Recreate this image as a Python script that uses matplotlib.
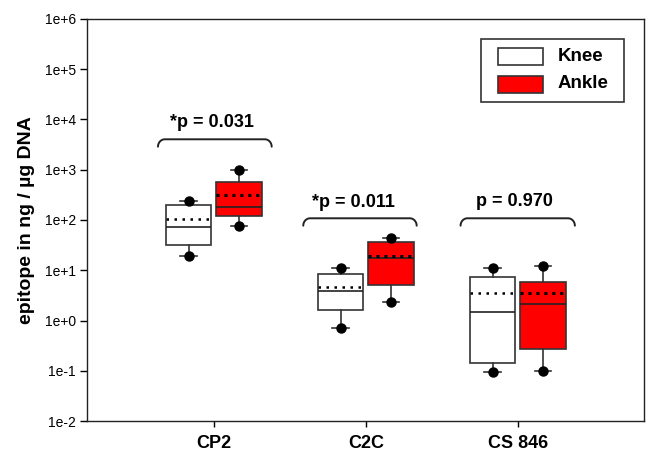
import numpy as np
import matplotlib
matplotlib.use("Agg")
import matplotlib.pyplot as plt
from matplotlib.patches import Rectangle

plt.rcParams['font.family'] = ['Liberation Sans', 'DejaVu Sans']

categories = ["CP2", "C2C", "CS 846"]
groups = ["Knee", "Ankle"]
group_colors = ["white", "#ff0000"]

# box statistics
knee_low = [19.5, 0.70, 0.093]
knee_q1 = [32, 1.60, 0.141]
knee_med = [72, 3.8, 1.50]
knee_mean = [104, 4.6, 3.6]
knee_q3 = [199, 8.3, 7.4]
knee_high = [240, 11.2, 10.9]

ankle_low = [76, 2.3, 0.10]
ankle_q1 = [122, 5.1, 0.267]
ankle_med = [179, 17.5, 2.1]
ankle_mean = [319, 19.2, 3.6]
ankle_q3 = [562, 36, 5.9]
ankle_high = [989, 43, 12.2]

p_labels = ["*p = 0.031", "*p = 0.011", "p = 0.970"]

fig = plt.figure(figsize=(6.46, 4.51), dpi=100)
ax = fig.add_axes([0.1347, 0.0665, 0.9969 - 0.1347, 0.9579 - 0.0665])
ax.set_yscale('log')
ax.set_ylim(1e-2, 1e6)
ax.set_xlim(0.165, 3.83)

x = np.arange(1, len(categories) + 1)
off = 0.166
width = 0.30


def stats(low, q1, med, mean, q3, high):
    out = []
    for i in range(len(low)):
        out.append(dict(whislo=low[i], q1=q1[i], med=med[i], mean=mean[i],
                        q3=q3[i], whishi=high[i], fliers=[low[i], high[i]]))
    return out


for vals, pos, fc, mstyle, mlw in [
    ((knee_low, knee_q1, knee_med, knee_mean, knee_q3, knee_high), x - off, group_colors[0], (0, (1, 2.2)), 1.8),
    ((ankle_low, ankle_q1, ankle_med, ankle_mean, ankle_q3, ankle_high), x + off, group_colors[1], (0, (1, 1.6)), 2.2),
]:
    ax.bxp(stats(*vals), positions=pos, widths=width, capwidths=0.11,
           showmeans=True, meanline=True, patch_artist=True, manage_ticks=False,
           boxprops=dict(facecolor=fc, edgecolor='#333333', linewidth=1.2),
           medianprops=dict(color='#222222', linewidth=1.2),
           meanprops=dict(color='black', linewidth=mlw, linestyle=mstyle),
           whiskerprops=dict(color='#333333', linewidth=1.2),
           capprops=dict(color='#333333', linewidth=1.2),
           flierprops=dict(marker='o', markerfacecolor='black', markeredgecolor='black', markersize=6.5))

# brackets with p-values
bracket_x0 = [0.632, 1.588, 2.623]
bracket_x1 = [1.380, 2.334, 3.375]
bracket_ly = [3.606, 2.034, 2.034]
text_x = [0.985, 1.916, 2.98]
text_ly = [3.845, 2.265, 2.279]
t = np.linspace(0, np.pi / 2, 20)
for i in range(3):
    r = 0.045
    d = 0.147
    lx = bracket_x0[i] + r * (1 - np.cos(t))
    ly = bracket_ly[i] - d * (1 - np.sin(t))
    rx = bracket_x1[i] - r * (1 - np.cos(t[::-1]))
    ry = bracket_ly[i] - d * (1 - np.sin(t[::-1]))
    xs = np.concatenate([lx, rx])
    ys = 10 ** np.concatenate([ly, ry])
    ax.plot(xs, ys, color='#222222', lw=1.4, solid_capstyle='round')
    ax.text(text_x[i], 10 ** text_ly[i], p_labels[i], ha='center', va='baseline',
            fontsize=13, fontweight='bold')

ax.set_xticks(x)
ax.set_xticklabels(categories, fontsize=13, fontweight='bold')
ax.set_yticks([10.0 ** k for k in range(-2, 7)])
ax.set_yticklabels([f"1e{k:+d}" for k in range(-2, 7)], fontsize=10)
ax.yaxis.set_minor_locator(matplotlib.ticker.NullLocator())
ax.tick_params(axis='y', direction='out', length=5, width=1, pad=3)
ax.tick_params(axis='x', direction='out', length=4, width=1, pad=6)
for s in ax.spines.values():
    s.set_linewidth(1.0)
    s.set_color('#222222')
ax.set_ylabel("epitope in ng / µg DNA", fontsize=14, fontweight='bold', labelpad=7)

# legend box (axes coordinates)
ax.add_patch(Rectangle((0.7068, 0.7928), 0.9636 - 0.7068, 0.9495 - 0.7928,
                       transform=ax.transAxes, facecolor='white', edgecolor='#333333',
                       linewidth=1.2, zorder=5))
patch_y = [0.8856, 0.8167]
text_y = [0.907, 0.839]
for i in range(2):
    ax.add_patch(Rectangle((0.7379, patch_y[i]), 0.8187 - 0.7379, 0.0423,
                           transform=ax.transAxes, facecolor=group_colors[i],
                           edgecolor='#333333', linewidth=1.2, zorder=6))
    ax.text(0.8456, text_y[i], groups[i], transform=ax.transAxes, ha='left', va='center',
            fontsize=13.5, fontweight='bold', zorder=7)

fig.savefig("out.png", dpi=100)
